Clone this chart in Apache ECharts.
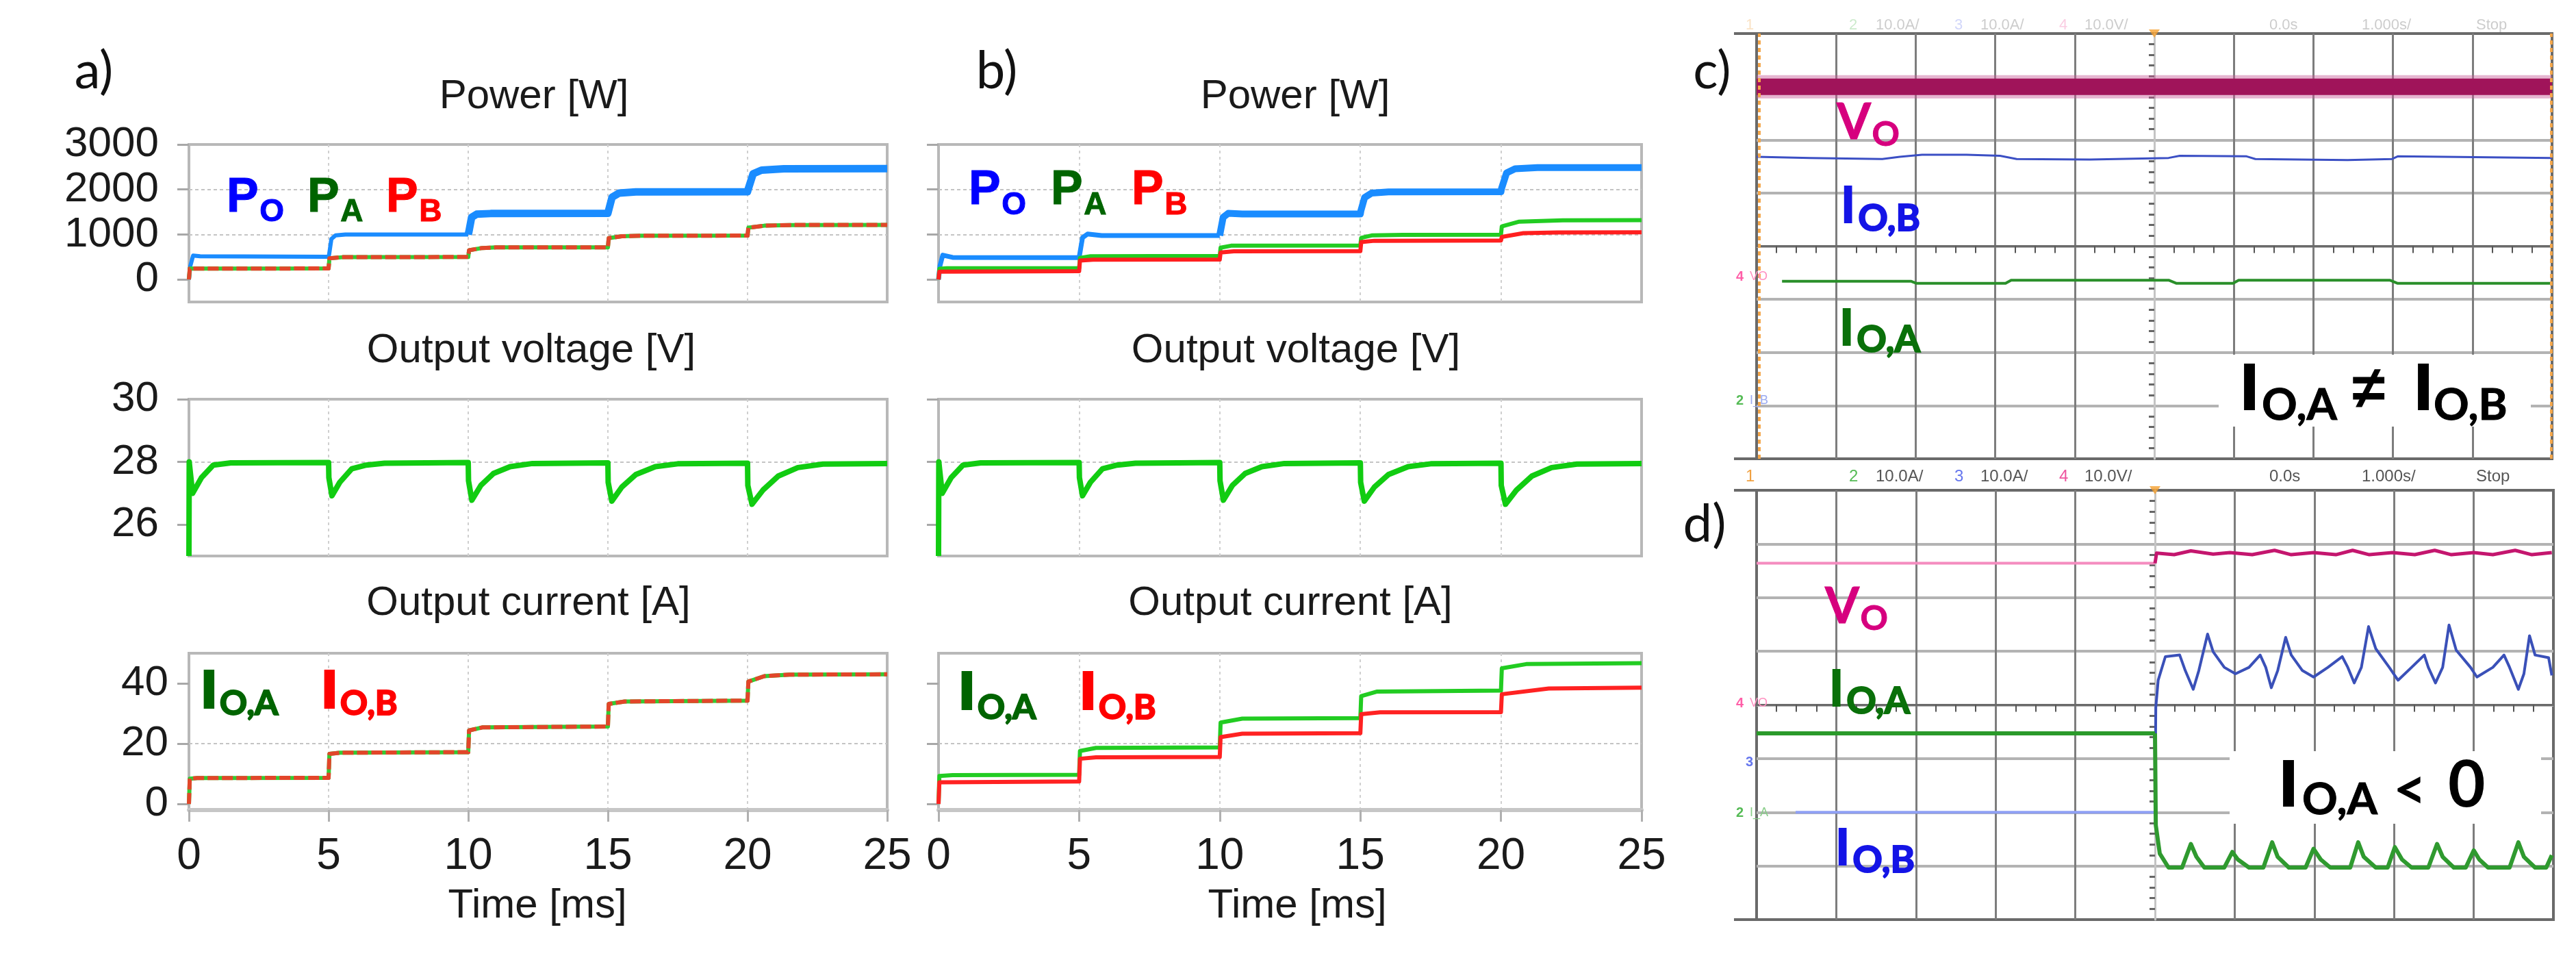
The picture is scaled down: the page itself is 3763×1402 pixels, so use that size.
<!DOCTYPE html>
<html><head><meta charset="utf-8">
<script src="https://cdn.jsdelivr.net/npm/echarts@6/dist/echarts.min.js"></script>
<style>html,body{margin:0;padding:0;background:#fff}#c{width:3763px;height:1402px}</style>
</head><body><div id="c"></div>
<script>
// ---------------- DATA (time in ms) ----------------
const timeTicks = [0, 5, 10, 15, 20, 25];
const powerTicks = [0, 1000, 2000, 3000];
const voltTicks = [26, 28, 30];
const currTicks = [0, 20, 40];

// panel a) equal sharing
const powOutA = [[0,0],[0.05,300],[0.15,530],[0.4,515],[5,505],[5.02,560],[5.1,900],[5.25,980],[5.6,1000],[10,1000],[10.02,1050],[10.12,1380],[10.3,1450],[10.8,1465],[15,1470],[15.02,1520],[15.15,1830],[15.4,1920],[16,1945],[20,1950],[20.02,2000],[20.2,2350],[20.5,2430],[21.3,2460],[25,2465]];
const powShareA = [[0,0],[0.03,240],[5,245],[5.03,470],[5.5,495],[10,500],[10.03,650],[10.5,700],[11,712],[15,715],[15.03,920],[15.5,960],[16.2,972],[20,975],[20.03,1150],[20.6,1195],[21.5,1210],[25,1212]];
const voltOut = [[0,25],[0.01,28],[0.13,27.0],[0.45,27.5],[0.87,27.9],[1.5,27.97],[5,27.98],
  [5.01,27.5],[5.12,26.92],[5.4,27.35],[5.83,27.78],[6.35,27.9],[7,27.96],[10,27.98],
  [10.01,27.4],[10.13,26.78],[10.45,27.25],[10.9,27.63],[11.5,27.85],[12.3,27.95],[15,27.97],
  [15.01,27.35],[15.14,26.75],[15.5,27.2],[16,27.6],[16.7,27.85],[17.5,27.94],[20,27.96],
  [20.01,27.25],[20.16,26.65],[20.55,27.1],[21.1,27.55],[21.8,27.82],[22.7,27.93],[25,27.95]];
const curShareA = [[0,0],[0.03,8.4],[0.3,8.6],[5,8.7],[5.03,16.6],[5.4,17.0],[10,17.2],[10.03,24.4],[10.5,25.4],[15,25.7],[15.03,33.2],[15.6,34.0],[20,34.3],[20.03,40.6],[20.6,42.4],[21.5,42.9],[25,43.0]];

// panel b) unequal sharing
const powOutB = [[0,0],[0.05,300],[0.15,540],[0.5,490],[5,485],[5.02,560],[5.12,930],[5.3,1010],[5.8,975],[10,975],[10.02,1050],[10.12,1380],[10.3,1470],[10.8,1455],[15,1455],[15.02,1530],[15.15,1820],[15.4,1920],[16,1945],[20,1950],[20.02,2020],[20.2,2370],[20.5,2460],[21.3,2485],[25,2485]];
const powAB = [[0,0],[0.03,240],[0.3,250],[5,255],[5.03,480],[5.4,515],[10,522],[10.03,705],[10.4,750],[15,757],[15.03,925],[15.4,978],[16.5,992],[20,995],[20.03,1180],[20.65,1285],[22.2,1315],[25,1320]];
const powBB = [[0,0],[0.03,175],[5,185],[5.03,420],[5.5,438],[10,442],[10.03,600],[10.5,625],[15,630],[15.03,830],[15.5,860],[20,866],[20.03,945],[20.8,1030],[22,1045],[25,1048]];
const curAB = [[0,0],[0.03,9.3],[0.5,9.6],[5,9.7],[5.03,17.6],[5.6,18.6],[10,18.8],[10.03,27.0],[10.8,28.3],[15,28.5],[15.03,35.8],[15.6,37.3],[20,37.6],[20.03,45.0],[20.9,46.4],[25,46.7]];
const curBB = [[0,0],[0.03,7.2],[5,7.5],[5.03,15.0],[5.6,15.5],[10,15.6],[10.03,22.2],[10.8,23.3],[15,23.5],[15.03,29.8],[15.7,30.4],[20,30.5],[20.03,36.4],[21.7,38.3],[25,38.6]];

// scopes (time and amplitude in divisions, trigger at 0)
const scVo = [[-5,3.0],[-2.5,3.0],[0,3.0],[2.5,3.0],[5,3.0]];
const scIoB = [[-5,1.68],[-4.33,1.66],[-3.42,1.64],[-3.2,1.68],[-2.92,1.72],[-2.36,1.72],[-1.94,1.70],[-1.73,1.64],[-0.81,1.63],[0.18,1.66],[0.32,1.70],[1.16,1.69],[1.27,1.64],[2.43,1.62],[2.99,1.64],[3.06,1.69],[5,1.66]];
const scIoA = [[-4.68,-0.66],[-3.06,-0.66],[-2.99,-0.70],[-1.87,-0.70],[-1.8,-0.64],[0.18,-0.64],[0.28,-0.70],[0.99,-0.70],[1.06,-0.64],[2.96,-0.64],[3.06,-0.70],[5,-0.70]];

const sdVoPre = [[-5,2.64],[0,2.64]];
const sdVoPost = [[0,2.64],[0.02,2.83],[0.24,2.80],[0.45,2.87],[0.73,2.81],[0.94,2.84],[1.22,2.80],[1.5,2.88],[1.71,2.80],[1.99,2.84],[2.27,2.80],[2.48,2.88],[2.69,2.80],[2.98,2.84],[3.26,2.80],[3.51,2.88],[3.72,2.80],[4.0,2.84],[4.24,2.80],[4.52,2.88],[4.73,2.80],[4.98,2.84]];
const sdIoAPre = [[-5,-0.53],[0,-0.53]];
const sdIoAPost = [[0,-0.53],[0.01,-2.24],[0.06,-2.77],[0.17,-3.03],[0.34,-3.03],[0.45,-2.59],[0.52,-2.83],[0.62,-3.03],[0.87,-3.03],[0.97,-2.74],[1.04,-2.88],[1.18,-3.03],[1.36,-3.03],[1.47,-2.56],[1.54,-2.83],[1.68,-3.03],[1.89,-3.03],[1.99,-2.68],[2.08,-2.88],[2.20,-3.03],[2.45,-3.03],[2.55,-2.56],[2.62,-2.83],[2.77,-3.03],[2.92,-3.03],[3.01,-2.65],[3.10,-2.88],[3.22,-3.03],[3.43,-3.03],[3.54,-2.59],[3.61,-2.83],[3.75,-3.03],[3.90,-3.03],[4.00,-2.71],[4.07,-2.88],[4.18,-3.03],[4.45,-3.03],[4.56,-2.56],[4.63,-2.83],[4.77,-3.03],[4.91,-3.03],[4.98,-2.80]];
const sdIoBPre = [[-4.51,-2.0],[0,-2.0]];
const sdIoBPost = [[0,-2.0],[0.01,-0.05],[0.04,0.46],[0.13,0.9],[0.31,0.93],[0.38,0.64],[0.48,0.29],[0.55,0.64],[0.66,1.32],[0.73,0.99],[0.87,0.70],[1.01,0.58],[1.18,0.70],[1.32,0.93],[1.39,0.70],[1.46,0.32],[1.54,0.64],[1.64,1.26],[1.71,0.93],[1.85,0.64],[1.99,0.52],[2.17,0.70],[2.35,0.90],[2.42,0.70],[2.50,0.41],[2.59,0.70],[2.68,1.46],[2.77,1.05],[2.94,0.70],[3.05,0.46],[3.22,0.70],[3.38,0.93],[3.43,0.70],[3.52,0.41],[3.61,0.70],[3.69,1.49],[3.78,1.02],[3.96,0.70],[4.04,0.52],[4.24,0.70],[4.38,0.93],[4.45,0.70],[4.56,0.29],[4.63,0.58],[4.70,1.29],[4.77,0.93],[4.94,0.88],[4.98,0.55]];

const scopeHeader = [['1','#f0a040'],['2','#55bb55'],['10.0A/','#555'],['3','#6677ee'],['10.0A/','#555'],['4','#ee55a0'],['10.0V/','#555'],['0.0s','#555'],['1.000s/','#555'],['Stop','#555']];

// ---------------- LAYOUT / STYLE ----------------
const SANS = '"Liberation Sans", Arial, sans-serif';
const CAL = 'Lato, "Open Sans", sans-serif';
const colsX = [{left:276, width:1020}, {left:1371, width:1027}];
const rowsY = [{top:211, height:230}, {top:583, height:229}, {top:954, height:229}];
const yDef = [
  {min:-500, max:3000, step:1000, ticks:powerTicks},
  {min:25, max:30, step:2, ticks:voltTicks},
  {min:-2, max:50, step:20, ticks:currTicks}
];

const grids = [], xAxes = [], yAxes = [], series = [];
function addPlot(col, row) {
  const gi = grids.length;
  grids.push({left:colsX[col].left, width:colsX[col].width, top:rowsY[row].top, height:rowsY[row].height,
    show:true, borderColor:'#b8b8b8', borderWidth:4, backgroundColor:'#fff'});
  const bottom = row === 2;
  xAxes.push({type:'value', gridIndex:gi, min:0, max:25, interval:5,
    axisLine:{show:bottom, onZero:false, lineStyle:{color:'#c6c6c6', width:6}},
    axisTick:{show:bottom, length:17, lineStyle:{color:'#b0b0b0', width:3}},
    axisLabel:{show:bottom, margin:36, fontSize:64, fontFamily:SANS, color:'#1a1a1a',
      formatter: v => timeTicks.includes(v) ? String(v) : ''},
    splitLine:{show:true, showMinLine:false, showMaxLine:false, lineStyle:{color:'#cfcfcf', width:2, type:[4,5]}}
  });
  const d = yDef[row];
  yAxes.push({type:'value', gridIndex:gi, min:d.min, max:d.max, minInterval:d.step, maxInterval:d.step,
    axisLine:{show:false},
    axisTick:{show:true, length:17, customValues:d.ticks, lineStyle:{color:'#a8a8a8', width:3}},
    axisLabel:{show:col === 0, customValues:d.ticks, margin: row === 2 ? 30 : 44, fontSize:62, fontFamily:SANS,
      color:'#1a1a1a', padding:[0,0,10,0], formatter: v => d.ticks.includes(v) ? String(v) : ''},
    splitLine:{show:true, showMinLine:false, showMaxLine:false, lineStyle:{color:'#c4c4c4', width:2, type:[5,4]}}
  });
  return gi;
}
function ln(gi, data, color, width, extra) {
  const s = {type:'line', xAxisIndex:gi, yAxisIndex:gi, data:data, symbol:'none', showSymbol:false,
    silent:true, animation:false, z:3, lineStyle:{color:color, width:width, cap:'butt', join:'round'}};
  if (extra && extra.dash) s.lineStyle.type = extra.dash;
  if (extra && extra.z) s.z = extra.z;
  if (extra && extra.markLine) s.markLine = extra.markLine;
  return s;
}
const upTo = (arr, t) => arr.filter(p => p[0] <= t);
const from = (arr, t) => arr.filter(p => p[0] >= t);

// panel a
const aP = addPlot(0,0), aV = addPlot(0,1), aI = addPlot(0,2);
series.push(ln(aP, upTo(powOutA,10), '#1a8cff', 6), ln(aP, from(powOutA,10), '#1a8cff', 11));
series.push(ln(aP, powShareA, '#33cc33', 6), ln(aP, powShareA, '#e2462a', 6, {dash:[16,5], z:4}));
series.push(ln(aV, voltOut, '#11cc11', 8));
series.push(ln(aI, curShareA, '#33cc33', 6), ln(aI, curShareA, '#e2462a', 6, {dash:[16,5], z:4}));
// panel b
const bP = addPlot(1,0), bV = addPlot(1,1), bI = addPlot(1,2);
series.push(ln(bP, upTo(powOutB,10), '#1a8cff', 7), ln(bP, from(powOutB,10), '#1a8cff', 10));
series.push(ln(bP, powAB, '#22cc22', 6), ln(bP, powBB, '#ff1f1f', 6));
series.push(ln(bV, voltOut, '#11cc11', 8));
series.push(ln(bI, curAB, '#22cc22', 6), ln(bI, curBB, '#ff2222', 6));

// scopes
function addScope(box) {
  const gi = grids.length;
  grids.push(Object.assign({show:true, borderColor:'#6a6a6a', borderWidth:4, backgroundColor:'#fff'}, box));
  xAxes.push({type:'value', gridIndex:gi, min:-5, max:5, interval:1,
    axisLine:{show:true, onZero:true, lineStyle:{color:'#6a6a6a', width:3}},
    axisTick:{show:false}, axisLabel:{show:false},
    minorTick:{show:true, splitNumber:4, length:10, lineStyle:{color:'#555', width:2}},
    splitLine:{show:true, showMinLine:false, showMaxLine:false, lineStyle:{color:'#7d7d7d', width:3}}});
  yAxes.push({type:'value', gridIndex:gi, min:-4, max:4, interval:1,
    axisLine:{show:true, onZero:true, lineStyle:{color:'#c4c4c4', width:3}},
    axisTick:{show:false}, axisLabel:{show:false},
    minorTick:{show:true, splitNumber:5, length:8, lineStyle:{color:'#666', width:3}},
    splitLine:{show:true, showMinLine:false, showMaxLine:false, lineStyle:{color:'#b3b3b3', width:4}}});
  series.push({type:'scatter', xAxisIndex:gi, yAxisIndex:gi, data:[[0,4]], symbol:'triangle', symbolRotate:180,
    symbolSize:[16,12], itemStyle:{color:'#f5a030'}, clip:false, silent:true, animation:false, z:6});
  return gi;
}
const sc = addScope({left:2566, top:49, width:1162, height:621});
const sd = addScope({left:2566, top:716, width:1164, height:627});
series.push(ln(sc, scVo, 'rgba(200,90,150,0.45)', 34));
series.push(ln(sc, scVo, '#a0145a', 24));
series.push(ln(sc, scIoB, '#3b4fc4', 3));
series.push(ln(sc, scIoA, '#2a8f2a', 4, {markLine:{silent:true, symbol:'none', animation:false, label:{show:false},
  lineStyle:{color:'#f4a64a', type:[6,5], width:4}, data:[{xAxis:-4.97},{xAxis:4.99}]}}));
series.push(ln(sd, sdVoPre, '#f48cbf', 4), ln(sd, sdVoPost, '#c4166e', 5));
series.push(ln(sd, sdIoBPre, '#8fa0f5', 4), ln(sd, sdIoBPost, '#3a50b8', 4));
series.push(ln(sd, sdIoAPre, '#2a9a2a', 6), ln(sd, sdIoAPost, '#2f9a2f', 6));

// ---------------- TEXT ----------------
const ctx = document.createElement('canvas').getContext('2d');
function measure(t, f) { ctx.font = f; return ctx.measureText(t).width; }
const G = [];
function txt(x, y, text, font, fill, align, extra) {
  const st = Object.assign({text:text, font:font, fill:fill, textAlign:align || 'left', textVerticalAlign:'middle'}, extra || {});
  G.push({type:'text', x:x, y:y, z:100, silent:true, style:st});
}
function subLabel(x, cy, main, sub, color, mSize, sSize, sCy, fam, gap, sw) {
  const fm = `bold ${mSize}px ${fam}`, fs = `bold ${sSize}px ${fam}`;
  txt(x, cy, main, fm, color, 'left', sw ? {stroke:color, lineWidth:sw} : {});
  txt(x + measure(main, fm) + gap + (sw ? sw / 2 : 0), sCy, sub, fs, color, 'left', sw ? {stroke:color, lineWidth:Math.min(sw, 2)} : {});
}
// panel letters
txt(137, 104, 'a)', `76px ${CAL}`, '#111', 'center');
txt(1456, 104, 'b)', `76px ${CAL}`, '#111', 'center');
txt(2501, 104, 'c)', `76px ${CAL}`, '#111', 'center');
txt(2490, 766, 'd)', `76px ${CAL}`, '#111', 'center');
// titles
const TF = `60px ${SANS}`;
txt(780, 141, 'Power [W]', TF, '#1a1a1a', 'center');
txt(1892, 141, 'Power [W]', TF, '#1a1a1a', 'center');
txt(776, 512, 'Output voltage [V]', TF, '#1a1a1a', 'center');
txt(1893, 512, 'Output voltage [V]', TF, '#1a1a1a', 'center');
txt(772, 881, 'Output current [A]', TF, '#1a1a1a', 'center');
txt(1885, 881, 'Output current [A]', TF, '#1a1a1a', 'center');
txt(785, 1323, 'Time [ms]', TF, '#1a1a1a', 'center');
txt(1895, 1323, 'Time [ms]', TF, '#1a1a1a', 'center');
// in-plot labels a
subLabel(331, 290, 'P', 'O', '#0000ff', 70, 46, 310, SANS, 1, 1);
subLabel(449, 290, 'P', 'A', '#006400', 70, 46, 310, SANS, 1, 1);
subLabel(564, 290, 'P', 'B', '#ff0000', 70, 46, 310, SANS, 1, 1);
subLabel(295, 1009, 'I', 'O,A', '#006400', 70, 50, 1028, CAL, 2, 6);
subLabel(471, 1009, 'I', 'O,B', '#ff0000', 70, 50, 1028, CAL, 2, 6);
// in-plot labels b
subLabel(1415, 279, 'P', 'O', '#0000ff', 70, 46, 300, SANS, 1, 1);
subLabel(1535, 279, 'P', 'A', '#006400', 70, 46, 300, SANS, 1, 1);
subLabel(1653, 279, 'P', 'B', '#ff0000', 70, 46, 300, SANS, 1, 1);
subLabel(1402, 1011, 'I', 'O,A', '#006400', 70, 50, 1034, CAL, 2, 6);
subLabel(1579, 1011, 'I', 'O,B', '#ff0000', 70, 50, 1034, CAL, 2, 6);
// white boxes behind scope statements
G.push({type:'rect', z:90, silent:true, shape:{x:3241, y:518, width:456, height:105}, style:{fill:'#fff'}});
G.push({type:'rect', z:90, silent:true, shape:{x:3257, y:1097, width:455, height:106}, style:{fill:'#fff'}});
// frame extensions of scope screens
[49, 670, 716, 1343].forEach(yy => G.push({type:'line', z:5, silent:true, shape:{x1:2533, y1:yy, x2:2568, y2:yy}, style:{stroke:'#6a6a6a', lineWidth:4}}));
// scope c labels
subLabel(2683, 180, 'V', 'O', '#d6007e', 72, 50, 197, CAL, 1, 1);
subLabel(2689, 302, 'I', 'O,B', '#1414e6', 72, 54, 320, CAL, 3, 2);
subLabel(2687, 481, 'I', 'O,A', '#0a700a', 72, 54, 497, CAL, 3, 2);
txt(3273, 569, 'I', `bold 88px ${CAL}`, '#000', 'left', {stroke:'#000', lineWidth:4});
txt(3304, 592, 'O,A', `bold 64px ${CAL}`, '#000', 'left', {stroke:'#000', lineWidth:1});
txt(3436, 572, '≠', `bold 88px ${SANS}`, '#000', 'left');
txt(3527, 569, 'I', `bold 88px ${CAL}`, '#000', 'left', {stroke:'#000', lineWidth:4});
txt(3555, 592, 'O,B', `bold 64px ${CAL}`, '#000', 'left', {stroke:'#000', lineWidth:1});
// scope d labels
subLabel(2666, 887, 'V', 'O', '#d6007e', 72, 50, 904, CAL, 1, 1);
subLabel(2672, 1008, 'I', 'O,A', '#0a700a', 72, 54, 1025, CAL, 3, 2);
subLabel(2681, 1240, 'I', 'O,B', '#1414e6', 72, 54, 1257, CAL, 3, 2);
txt(3330, 1148, 'I', `bold 88px ${CAL}`, '#000', 'left', {stroke:'#000', lineWidth:4});
txt(3363, 1168, 'O,A', `bold 64px ${CAL}`, '#000', 'left', {stroke:'#000', lineWidth:1});
txt(3496, 1155, '<', `bold 84px ${CAL}`, '#000', 'left');
txt(3576, 1148, '0', `bold 94px ${CAL}`, '#000', 'left');
// channel markers
txt(2536, 404, '4', `bold 20px ${SANS}`, '#ff5fa8');
txt(2556, 404, 'VO', `18px ${SANS}`, '#ff8fc0');
txt(2536, 585, '2', `bold 20px ${SANS}`, '#55bb55');
txt(2556, 585, 'I_B', `18px ${SANS}`, '#9aaaf0');
txt(2536, 1027, '4', `bold 20px ${SANS}`, '#ff5fa8');
txt(2556, 1027, 'VO', `18px ${SANS}`, '#ff8fc0');
txt(2550, 1113, '3', `bold 20px ${SANS}`, '#6677ee');
txt(2536, 1187, '2', `bold 20px ${SANS}`, '#55bb55');
txt(2556, 1187, 'I_A', `18px ${SANS}`, '#88cc88');
// scope header lines
const hdrX = [2550, 2701, 2740, 2855, 2893, 3008, 3045, 3315, 3450, 3617];
scopeHeader.forEach((h, i) => {
  txt(hdrX[i], 696, h[0], `24px ${SANS}`, h[1]);
  txt(hdrX[i], 37, h[0], `22px ${SANS}`, h[1], 'left', {opacity:0.3});
});

const chart = echarts.init(document.getElementById('c'), null, {renderer:'canvas'});
chart.setOption({
  animation:false, backgroundColor:'#fff',
  grid:grids, xAxis:xAxes, yAxis:yAxes, series:series,
  graphic:{elements:G}
});
</script></body></html>
